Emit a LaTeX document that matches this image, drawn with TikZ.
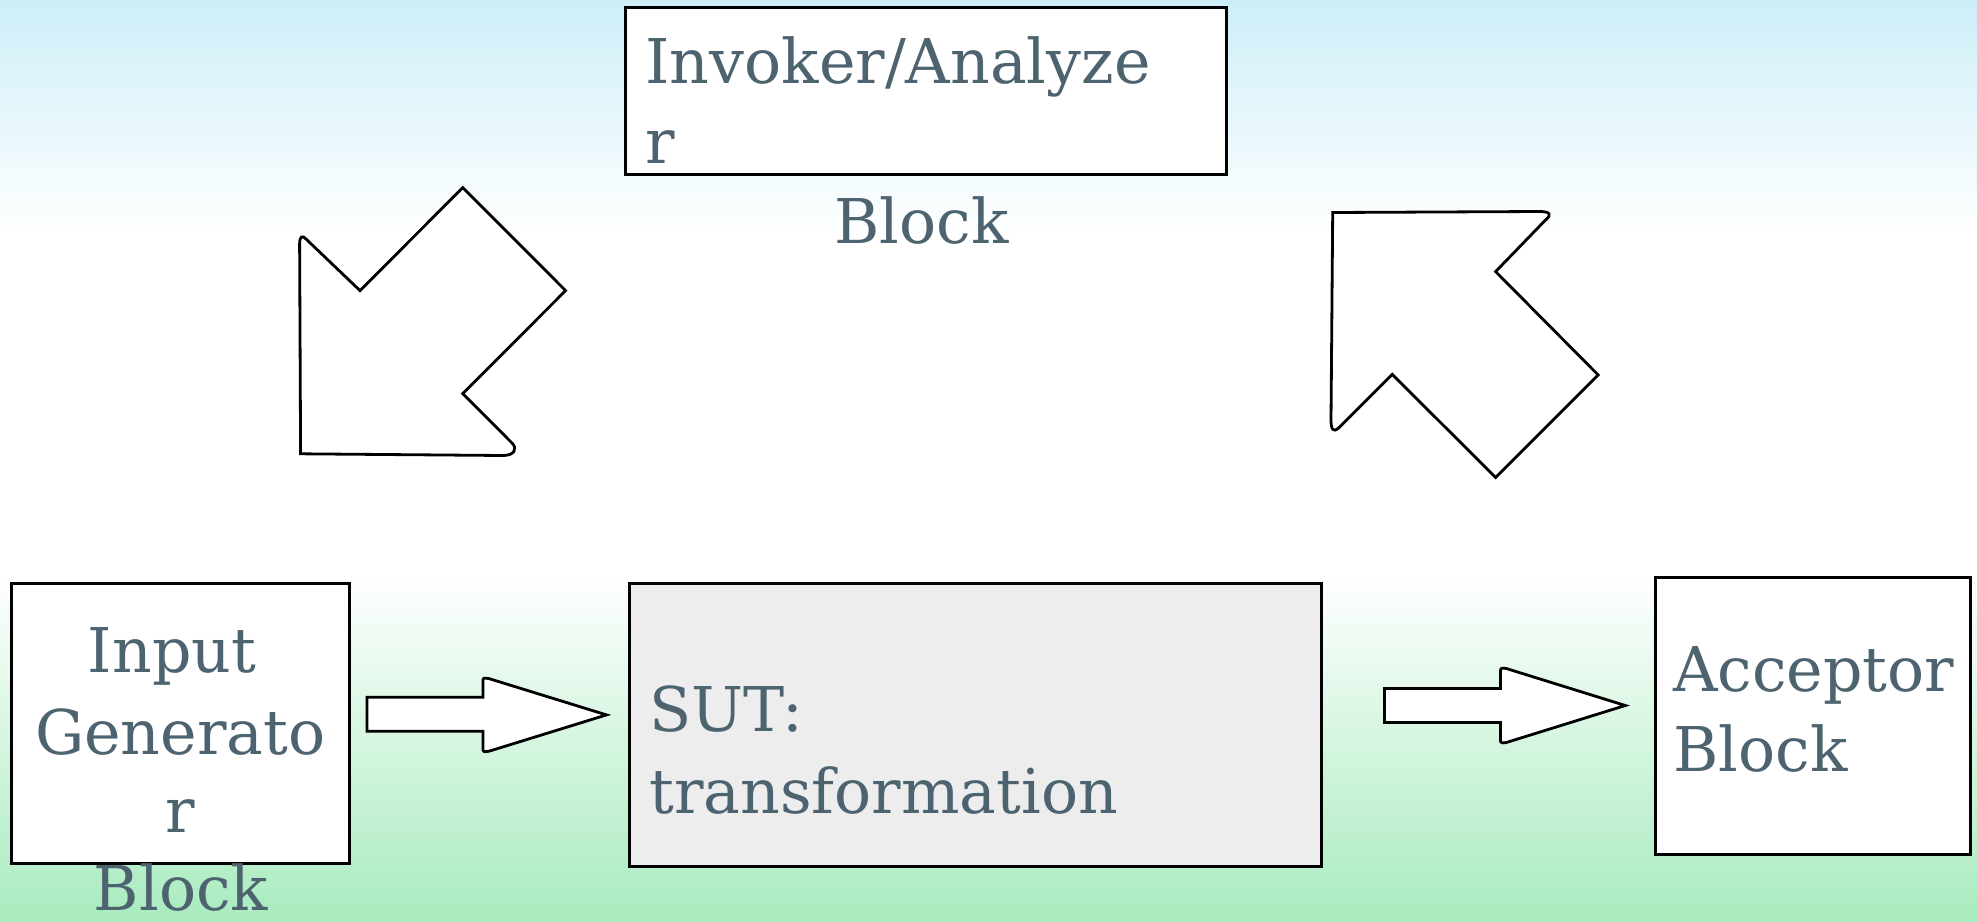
\documentclass[tikz,border=0pt]{standalone}
\usepackage{fontspec}
\setmainfont{DejaVu Serif}
\definecolor{skytop}{HTML}{CDEEF8}
\definecolor{grassbot}{HTML}{A8EBBE}
\definecolor{txtc}{HTML}{4E6370}
\definecolor{sutfill}{HTML}{EDEDED}
\tikzset{
  blockbox/.style={draw=black, line width=3pt, fill=white, inner sep=0pt, outer sep=0pt, anchor=north west},
  lbl/.style={text=txtc, inner sep=0pt, outer sep=0pt, font=\fontsize{61.7}{80}\selectfont},
  fatarrow/.style={draw=black, line width=2.8pt, fill=white, line join=miter}
}
\begin{document}
\begin{tikzpicture}[x=1pt,y=-1pt]
\useasboundingbox (0,0) rectangle (1977,921);
% background
\fill[white] (0,0) rectangle (1977,921);
\fill[top color=skytop, bottom color=white] (0,0) rectangle (1977,235);
\fill[top color=white, bottom color=grassbot] (0,575) rectangle (1977,921);

% boxes
\node[blockbox, minimum width=601.5pt, minimum height=166.4pt] (inv) at (625.4,7.6) {};
\node[blockbox, minimum width=338pt, minimum height=280pt] (inp) at (11.3,583.8) {};
\node[blockbox, fill=sutfill, minimum width=692.2pt, minimum height=282.4pt] (sut) at (629.2,583.8) {};
\node[blockbox, minimum width=315.2pt, minimum height=277.4pt] (acc) at (1655.6,577.5) {};

% labels
\node[lbl, anchor=base west] (invA) at (645.6,83.2) {Invoker/Analyze};
\node[lbl, anchor=base west] (invB) at (645.6,163.9) {r};
\node[lbl, anchor=base] (invC) at (921.7,243.4) {Block};

\node[lbl, anchor=base] (inpA) at (172,672) {Input};
\node[lbl, anchor=base] (inpB) at (180.3,754) {Generato};
\node[lbl, anchor=base] (inpC) at (180.3,832.2) {r};
\node[lbl, anchor=base] (inpD) at (181,910.4) {Block};

\node[lbl, anchor=base west] (sutA) at (649.4,731.3) {SUT:};
\node[lbl, anchor=base west] (sutB) at (649.4,813.3) {transformation};

\node[lbl, anchor=base west] (accA) at (1673.2,691) {Acceptor};
\node[lbl, anchor=base west] (accB) at (1673.2,771.7) {Block};

% diagonal block arrow (down-left)
\draw[fatarrow] (300.6,453.8) -- (299.6,244)
  .. controls (299.6,236) and (302.5,235) .. (306,239)
  -- (360,290.6) -- (462.8,187.6) -- (565.6,290.6) -- (462.8,393.6) -- (512,443)
  .. controls (518,449) and (514,455.5) .. (503,455.5) -- cycle;

% diagonal block arrow (up-right)
\draw[fatarrow] (1332.7,212.5) -- (1539,211.5)
  .. controls (1550,211.5) and (1552,214.5) .. (1546,219.5)
  -- (1495.6,271.6) -- (1598.2,375) -- (1495.6,477.4) -- (1392.2,374.4) -- (1338.5,428)
  .. controls (1333,433) and (1331,429) .. (1331,420) -- cycle;

% horizontal block arrow 1
\draw[fatarrow] (366.9,697.3) -- (482.9,697.3) -- (482.9,681)
  .. controls (482.9,678) and (484,677.6) .. (489,678.6)
  -- (606.5,714.9) -- (489,751.2)
  .. controls (484,752.2) and (482.9,751.8) .. (482.9,748.8)
  -- (482.9,731.3) -- (366.9,731.3) -- cycle;

% horizontal block arrow 2
\draw[fatarrow] (1384.5,688.5) -- (1500.5,688.5) -- (1500.5,671)
  .. controls (1500.5,668) and (1501.6,667.6) .. (1506.6,668.6)
  -- (1625.3,705.5) -- (1506.6,742.4)
  .. controls (1501.6,743.4) and (1500.5,743) .. (1500.5,740)
  -- (1500.5,722.5) -- (1384.5,722.5) -- cycle;
\end{tikzpicture}
\end{document}
